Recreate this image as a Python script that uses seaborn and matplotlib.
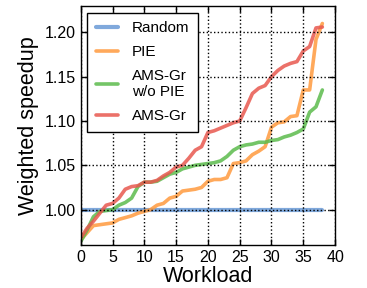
import numpy as np
import pandas as pd
import matplotlib
matplotlib.use("Agg")
import matplotlib.pyplot as plt
import seaborn as sns

# Data (sorted per-workload weighted speedup)
workload = list(range(39))

random_ws = [1.00] * 39

pie_ws = [0.966, 0.974, 0.982, 0.983, 0.984, 0.985, 0.989, 0.991, 0.993, 0.996,
          0.998, 1.000, 1.005, 1.007, 1.013, 1.015, 1.021, 1.022, 1.023, 1.025,
          1.032, 1.034, 1.034, 1.036, 1.052, 1.053, 1.055, 1.062, 1.066, 1.071,
          1.093, 1.098, 1.099, 1.105, 1.106, 1.135, 1.135, 1.192, 1.210]

ams_nopie_ws = [0.964, 0.977, 0.992, 0.998, 0.999, 1.000, 1.005, 1.008, 1.013, 1.026,
                1.031, 1.031, 1.032, 1.036, 1.040, 1.042, 1.046, 1.048, 1.050, 1.051,
                1.052, 1.053, 1.055, 1.060, 1.067, 1.071, 1.073, 1.074, 1.076, 1.076,
                1.078, 1.079, 1.082, 1.084, 1.087, 1.091, 1.110, 1.116, 1.135]

ams_ws = [0.968, 0.979, 0.987, 0.996, 1.005, 1.007, 1.013, 1.023, 1.026, 1.027,
          1.031, 1.031, 1.033, 1.038, 1.042, 1.048, 1.050, 1.058, 1.067, 1.071,
          1.087, 1.089, 1.092, 1.095, 1.098, 1.100, 1.115, 1.131, 1.137, 1.140,
          1.150, 1.157, 1.162, 1.165, 1.167, 1.179, 1.184, 1.205, 1.206]

series = [
    ("Random", random_ws, "#6a9ad6"),
    ("PIE", pie_ws, "#ff9a3e"),
    ("AMS-Gr\nw/o PIE", ams_nopie_ws, "#5cbb4c"),
    ("AMS-Gr", ams_ws, "#e8584f"),
]

sns.set_style("ticks")
plt.rcParams["font.family"] = ["Liberation Sans", "DejaVu Sans"]
plt.rcParams["text.color"] = "black"
plt.rcParams["axes.labelcolor"] = "black"

fig, ax = plt.subplots(figsize=(3.67, 2.88), dpi=100)
fig.subplots_adjust(left=0.22, right=0.913, bottom=0.149, top=0.98)

for name, vals, color in series:
    df = pd.DataFrame({"Workload": workload, "ws": vals})
    sns.lineplot(data=df, x="Workload", y="ws", ax=ax, color=color,
                 linewidth=3 if name == "Random" else 2.6,
                 alpha=0.85, label=name)

ax.set_xlim(0, 40)
ax.set_ylim(0.96, 1.23)
ax.set_xticks(range(0, 41, 5))
ax.set_yticks([1.00, 1.05, 1.10, 1.15, 1.20])
ax.set_yticklabels(["1.00", "1.05", "1.10", "1.15", "1.20"])
ax.grid(True, color="black", linestyle=":", linewidth=1)
ax.set_axisbelow(False)
ax.tick_params(direction="in", top=True, right=True, length=4, width=1,
               labelsize=11.5, colors="black")
for sp in ax.spines.values():
    sp.set_color("black")
    sp.set_linewidth(1)

ax.set_xlabel("Workload", fontsize=15.5, labelpad=1)
ax.set_ylabel("Weighted speedup", fontsize=15.5)

leg = ax.legend(loc="upper left", fontsize=11, frameon=True, fancybox=False,
                edgecolor="black", framealpha=1, handlelength=1.45,
                labelspacing=0.65, borderpad=0.55, handletextpad=0.95,
                borderaxespad=0, bbox_to_anchor=(0.025, 0.97))
leg.get_frame().set_linewidth(1)

plt.savefig("out.png", dpi=100)
plt.close()
